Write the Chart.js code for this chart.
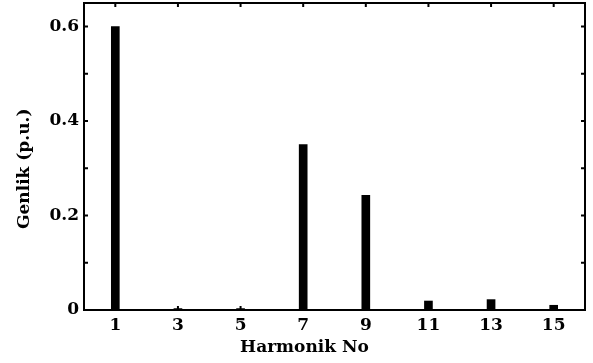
<!DOCTYPE html>
<html>
<head>
<meta charset="utf-8">
<script src="https://cdn.jsdelivr.net/npm/chart.js@4/dist/chart.umd.min.js"></script>
<style>
  html, body { margin: 0; padding: 0; background: #fff; }
  #wrap { width: 593px; height: 363px; }
</style>
</head>
<body>
<div id="wrap"><canvas id="c" width="593" height="363"></canvas></div>
<script>
// Harmonic spectrum: amplitude (p.u.) per harmonic order
const harmonics = [1, 3, 5, 7, 9, 11, 13, 15];
const amplitudes = [0.60, 0.003, 0.003, 0.35, 0.243, 0.019, 0.022, 0.010];
const yTickValues = [0, 0.2, 0.4, 0.6];
const yMinorValues = [0, 0.1, 0.2, 0.3, 0.4, 0.5, 0.6];
const xTickValues = [1, 3, 5, 7, 9, 11, 13, 15];
const xTitle = 'Harmonik No';
const yTitle = 'Genlik (p.u.)';

const FONT = 'DejaVu Serif';

// Boxed frame with inward tick marks on all four sides, plus axis captions
const framePlugin = {
  id: 'frame',
  afterDraw(chart) {
    const { ctx, chartArea: a, scales: { x, y } } = chart;
    ctx.save();
    ctx.strokeStyle = '#000';
    ctx.lineWidth = 2;
    ctx.strokeRect(a.left, a.top, a.right - a.left, a.bottom - a.top);
    const tl = 4;
    ctx.beginPath();
    xTickValues.forEach(v => {
      const px = x.getPixelForValue(v);
      ctx.moveTo(px, a.bottom); ctx.lineTo(px, a.bottom - tl);
      ctx.moveTo(px, a.top); ctx.lineTo(px, a.top + tl);
    });
    yMinorValues.forEach(v => {
      const py = y.getPixelForValue(v);
      ctx.moveTo(a.left, py); ctx.lineTo(a.left + tl, py);
      ctx.moveTo(a.right, py); ctx.lineTo(a.right - tl, py);
    });
    ctx.stroke();

    ctx.fillStyle = '#000';
    ctx.font = 'bold 17px "' + FONT + '"';
    ctx.textAlign = 'center';
    ctx.textBaseline = 'middle';
    ctx.fillText(xTitle, a.left + (a.right - a.left) * 0.44, a.bottom + 38);
    ctx.translate(25, a.top + (a.bottom - a.top) * 0.54);
    ctx.rotate(-Math.PI / 2);
    ctx.fillText(yTitle, 0, 0);
    ctx.restore();
  }
};

new Chart(document.getElementById('c'), {
  type: 'bar',
  data: {
    datasets: [{
      data: harmonics.map((h, i) => ({ x: h, y: amplitudes[i] })),
      backgroundColor: '#000',
      borderWidth: 0,
      barThickness: 8
    }]
  },
  options: {
    responsive: false,
    animation: false,
    events: [],
    layout: { padding: { left: 0, right: 8, top: 3, bottom: 0 } },
    plugins: { legend: { display: false }, tooltip: { enabled: false } },
    scales: {
      x: {
        type: 'linear',
        min: 0,
        max: 16,
        offset: false,
        afterBuildTicks: s => { s.ticks = xTickValues.map(v => ({ value: v })); },
        afterFit: s => { s.height = 53; s.paddingLeft = 0; s.paddingRight = 0; },
        grid: { display: false, drawTicks: false },
        border: { display: false },
        ticks: {
          color: '#000',
          padding: 5,
          font: { family: FONT, size: 17, weight: 'bold' },
          callback: v => String(v)
        }
      },
      y: {
        min: 0,
        max: 0.65,
        afterBuildTicks: s => { s.ticks = yTickValues.map(v => ({ value: v })); },
        afterFit: s => { s.width = 84; s.paddingTop = 0; s.paddingBottom = 0; },
        grid: { display: false, drawTicks: false },
        border: { display: false },
        ticks: {
          color: '#000',
          padding: 5,
          font: { family: FONT, size: 17, weight: 'bold' },
          callback: v => (v === 0 ? '0' : v.toFixed(1))
        }
      }
    }
  },
  plugins: [framePlugin]
});
</script>
</body>
</html>
